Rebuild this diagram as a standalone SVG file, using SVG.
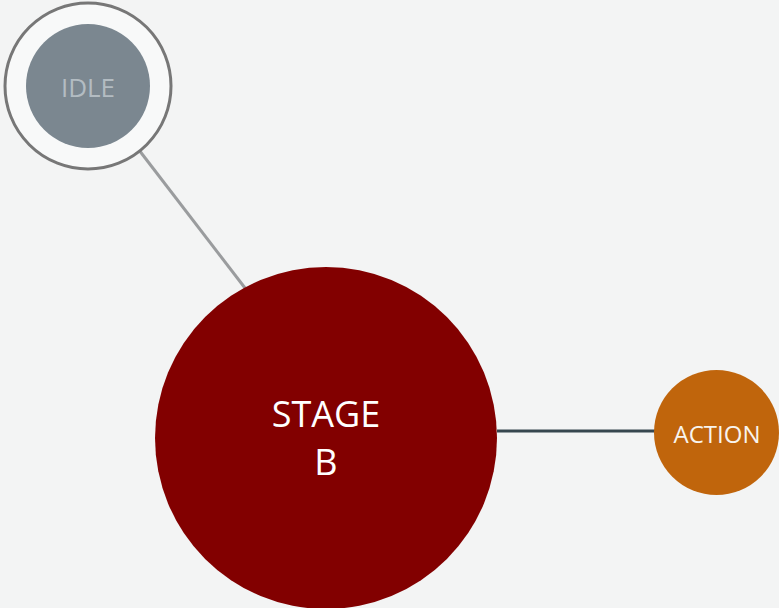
<svg xmlns="http://www.w3.org/2000/svg" width="779" height="608" viewBox="0 0 779 608">
<style>
text{font-family:"Open Sans","DejaVu Sans",sans-serif;text-anchor:middle}
.edge{fill:none;stroke-width:3}
</style>
<rect width="779" height="608" fill="#f3f4f4"/>
<g id="connectors">
<line class="edge" x1="139" y1="150" x2="245" y2="288" stroke="#9a9c9e"/>
<line class="edge" x1="497" y1="431" x2="655" y2="431" stroke="#37474f"/>
</g>
<g id="idle">
<circle cx="88" cy="86" r="83" fill="#f8f9f9" stroke="#777" stroke-width="3"/>
<circle cx="88" cy="86" r="62" fill="#7b8790"/>
<text x="88" y="97" font-size="26" fill="#b3bcc2">IDLE</text>
</g>
<g id="stage-b">
<circle cx="326" cy="438" r="171" fill="#820000"/>
<text x="326" y="427" font-size="36" fill="#ffffff">STAGE</text>
<text x="326" y="475" font-size="36" fill="#ffffff">B</text>
</g>
<g id="action">
<circle cx="716.5" cy="432.5" r="62.5" fill="#c0650c"/>
<text x="717" y="443" font-size="24" fill="#f8f4ee">ACTION</text>
</g>
</svg>
